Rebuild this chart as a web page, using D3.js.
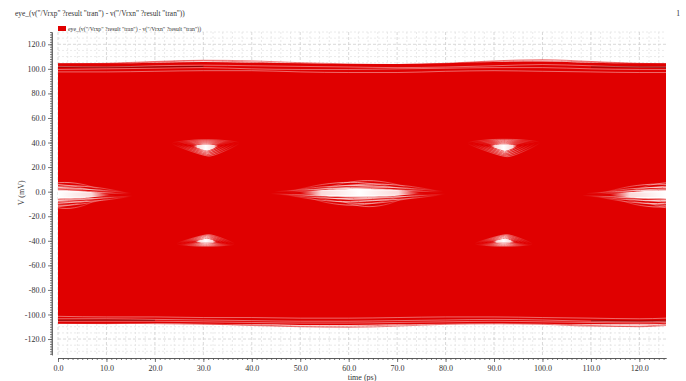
<!DOCTYPE html>
<html>
<head>
<meta charset="utf-8">
<script src="https://cdn.jsdelivr.net/npm/d3@7"></script>
<style>
  body { margin: 0; background: #fff; }
  svg { display: block; }
  text { font-family: "Liberation Serif", "Times New Roman", serif; fill: #333; }
</style>
</head>
<body>
<svg id="chart" width="686" height="381"></svg>
<script>
// ---- signal name / labels ----
const titleText = 'eye_(v("/Vrxp" ?result "tran") - v("/Vrxn" ?result "tran"))';
const legendText = titleText;
const xLabel = "time (ps)";
const yLabel = "V (mV)";

// ---- axis ticks ----
const xTicks = [0, 10, 20, 30, 40, 50, 60, 70, 80, 90, 100, 110, 120];
const yTicks = [-120, -100, -80, -60, -40, -20, 0, 20, 40, 60, 80, 100, 120];

// ---- eye envelope (time in ps, voltage in mV) ----
const envT = [0, 10, 20, 30, 40, 50, 60, 70, 80, 90, 100, 110, 120, 125.5];
const bodyTop    = [104.5, 104.5, 105, 105.5, 105, 104.5, 104, 104, 104.5, 105.5, 106, 105, 104.5, 104.5];
const bodyBottom = [-107.5, -107.5, -107, -107.5, -108, -108.5, -108.5, -108, -107.5, -107, -107.5, -108, -108, -107.5];

// outlying traces just outside the body
const upperStray = [
  [104.0, 104.5, 106.0, 107.0, 106.5, 105.0, 104.0, 103.5, 104.5, 106.5, 107.5, 106.0, 104.5, 104.0],
  [103.5, 104.0, 105.5, 106.5, 105.5, 104.0, 103.5, 103.5, 104.0, 106.0, 106.5, 105.5, 104.0, 103.5]
];
const lowerStray = [
  [-107.0, -107.5, -107.0, -107.5, -109.0, -110.0, -110.5, -109.5, -108.0, -107.5, -108.0, -109.5, -109.5, -108.0],
  [-106.5, -107.0, -107.5, -108.0, -108.5, -109.5, -109.5, -108.5, -107.5, -107.5, -107.5, -109.0, -110.0, -109.0]
];

// gaps between the rail traces
const upperGaps = [
  [102.0, 101.5, 102.5, 103.0, 102.5, 102.0, 101.5, 101.0, 101.5, 102.5, 103.5, 102.5, 101.5, 101.5],
  [99.5, 100.0, 100.5, 101.0, 100.0, 99.5, 99.5, 100.0, 100.5, 101.0, 101.0, 100.0, 99.5, 99.5],
  [97.5, 97.5, 98.0, 98.5, 98.5, 97.5, 97.0, 97.0, 98.0, 98.5, 98.0, 97.5, 97.0, 97.0]
];
const lowerGaps = [
  [-103.5, -103.5, -104.0, -104.5, -105.0, -105.5, -105.5, -105.0, -104.5, -104.0, -104.5, -105.5, -106.0, -105.5],
  [-105.5, -105.5, -105.5, -106.0, -106.5, -107.0, -107.0, -106.5, -106.0, -105.5, -106.0, -106.5, -107.0, -106.5],
  [-101.5, -102.0, -102.0, -102.5, -102.5, -103.0, -103.0, -102.5, -102.0, -102.0, -102.5, -103.0, -103.5, -103.0]
];

// darker rail traces (only partly visible)
const upperDark = [101.5, 101.3, 101.5, 102.0, null, null, null, null, null, null, null, 101.5, 101.5, 101.3];
const lowerDark = [-104.8, -104.6, -104.8, null, null, null, null, null, null, null, null, -105.2, -105.4, -105.2];

// ---- eye openings ----
const bigEyeT     = [0, 62.3, 125.5];
const bigEyeV     = [-2.5, -1, -2.5];
const bigEyeHalfW = [14, 16, 15];
const bigEyeHalfH = [10, 10, 10];

const smallEyeT     = [30.5, 92, 30.5, 92];
const smallEyeV     = [36, 36, -40, -40];
const smallEyeHalfW = [7, 7.5, 6, 6];
const smallEyeHalfH = [7, 7.5, 5, 5];
const smallEyeApex  = [-1, -1, 1, 1];

// ---- layout ----
const plot = { left: 58, right: 666, top: 32, bottom: 355 };
const yAxisX = 52, xAxisY = 358;
const RED = "#e00000";

const svg = d3.select("#chart");
const defs = svg.append("defs");

const x = d3.scaleLinear().domain([0, 125.5]).range([plot.left, plot.right]);
const y = d3.scaleLinear().domain([-133, 130]).range([plot.bottom, plot.top]);

// horizontal fade used for the traces inside the eye openings
function fade(id, stops) {
  const lg = defs.append("linearGradient").attr("id", id)
    .attr("x1", 0).attr("x2", 1).attr("y1", 0).attr("y2", 0);
  stops.forEach(([o, a]) => lg.append("stop").attr("offset", o)
    .attr("stop-color", "#fff").attr("stop-opacity", a));
}
fade("fadeSoft", [[0, 0], [0.25, 0.55], [0.45, 1], [0.55, 1], [0.75, 0.55], [1, 0]]);
fade("fadeCore", [[0, 0], [0.18, 0.85], [0.5, 1], [0.82, 0.85], [1, 0]]);

// grid
const grid = svg.append("g");
const xMinorGrid = d3.range(0, 125.6, 2).filter(t => t % 10 !== 0);
const yMinorGrid = d3.range(-130, 131, 5).filter(v => v % 20 !== 0);
grid.selectAll(".vg").data(xMinorGrid).join("line")
  .attr("x1", d => x(d)).attr("x2", d => x(d))
  .attr("y1", plot.top).attr("y2", plot.bottom)
  .attr("stroke", "#e4e4e4").attr("stroke-width", 0.8).attr("stroke-dasharray", "2,2");
grid.selectAll(".hg").data(yMinorGrid).join("line")
  .attr("x1", plot.left).attr("x2", plot.right)
  .attr("y1", d => y(d)).attr("y2", d => y(d))
  .attr("stroke", "#e4e4e4").attr("stroke-width", 0.8).attr("stroke-dasharray", "2,2");
grid.selectAll(".vG").data(xTicks).join("line")
  .attr("x1", d => x(d)).attr("x2", d => x(d))
  .attr("y1", plot.top).attr("y2", plot.bottom)
  .attr("stroke", "#cfcfcf").attr("stroke-width", 0.8).attr("stroke-dasharray", "3,2");
grid.selectAll(".hG").data(yTicks).join("line")
  .attr("x1", plot.left).attr("x2", plot.right)
  .attr("y1", d => y(d)).attr("y2", d => y(d))
  .attr("stroke", "#cfcfcf").attr("stroke-width", 0.8).attr("stroke-dasharray", "3,2");

// clip
defs.append("clipPath").attr("id", "plotClip")
  .append("rect").attr("x", plot.left).attr("y", plot.top)
  .attr("width", plot.right - plot.left).attr("height", plot.bottom - plot.top);

const g = svg.append("g").attr("clip-path", "url(#plotClip)");

// trace helpers
const zip = vals => envT.map((t, i) => [t, vals[i]]);
const railLine = d3.line()
  .defined(d => d[1] != null)
  .x(d => x(d[0])).y(d => y(d[1]))
  .curve(d3.curveMonotoneX);

// eye body
const body = d3.area()
  .x(d => x(d[0])).y0(d => y(d[2])).y1(d => y(d[1]))
  .curve(d3.curveMonotoneX);
g.append("path")
  .datum(envT.map((t, i) => [t, bodyTop[i], bodyBottom[i]]))
  .attr("d", body).attr("fill", RED);

// stray traces
g.selectAll(".stray").data(upperStray.concat(lowerStray)).join("path")
  .attr("d", d => railLine(zip(d)))
  .attr("fill", "none").attr("stroke", RED)
  .attr("stroke-width", 0.8).attr("stroke-opacity", 0.6);

// light gaps in the rails
g.selectAll(".gap").data(upperGaps.concat(lowerGaps)).join("path")
  .attr("d", d => railLine(zip(d)))
  .attr("fill", "none").attr("stroke", "#fff")
  .attr("stroke-width", 0.6).attr("stroke-opacity", 0.7);

// dark rail traces
g.selectAll(".dark").data([upperDark, lowerDark]).join("path")
  .attr("d", d => railLine(zip(d)))
  .attr("fill", "none").attr("stroke", "#200")
  .attr("stroke-width", 0.7).attr("stroke-opacity", 0.6);

// big eye openings: feathered arcs fading toward the crossings, plus a clear core
const featherRise  = [1.0, 0.86, 0.72, 0.6, 0.48, 0.36, 0.24, -0.24, -0.36, -0.48, -0.6, -0.72, -0.86, -1.0, -1.12];
const featherReach = [0.6, 0.72, 0.82, 0.9, 0.96, 1.0, 1.0, 1.0, 1.0, 0.96, 0.9, 0.82, 0.74, 0.64, 0.5];
const featherShift = [0.1, -0.12, 0.18, -0.05, 0.12, -0.1, 0.05, -0.15, 0.1, -0.08, 0.16, -0.12, 0.06, -0.1, 0.12];
const featherAlpha = [0.55, 0.65, 0.75, 0.85, 0.9, 0.95, 1, 1, 0.95, 0.9, 0.85, 0.75, 0.65, 0.55, 0.45];
const arcLine = d3.line().x(d => x(d[0])).y(d => y(d[1])).curve(d3.curveCatmullRom);
const closedLine = d3.line().x(d => x(d[0])).y(d => y(d[1])).curve(d3.curveCardinalClosed.tension(0.4));

bigEyeT.forEach((tc, e) => {
  const vc = bigEyeV[e], hw = bigEyeHalfW[e], hh = bigEyeHalfH[e];
  const eg = g.append("g");
  featherRise.forEach((r, k) => {
    const reach = hw * featherReach[k], rise = hh * r, mid = tc + hw * featherShift[k];
    const pts = [
      [mid - reach, vc + rise * 0.25],
      [mid - reach * 0.5, vc + rise * 0.8],
      [mid, vc + rise],
      [mid + reach * 0.5, vc + rise * 0.8],
      [mid + reach, vc + rise * 0.25]
    ];
    eg.append("path").attr("d", arcLine(pts))
      .attr("fill", "none").attr("stroke", "url(#fadeSoft)")
      .attr("stroke-width", 0.9).attr("stroke-opacity", featherAlpha[k]);
  });
  const core = [
    [tc - hw * 0.78, vc], [tc - hw * 0.38, vc + hh * 0.27], [tc, vc + hh * 0.32],
    [tc + hw * 0.38, vc + hh * 0.27], [tc + hw * 0.78, vc],
    [tc + hw * 0.38, vc - hh * 0.27], [tc, vc - hh * 0.32], [tc - hw * 0.38, vc - hh * 0.27]
  ];
  eg.append("path").attr("d", closedLine(core))
    .attr("fill", "url(#fadeCore)");
});

// small eye openings: triangular, apex toward the middle level
const smallScale = [1.0, 0.86, 0.72, 0.58, 0.45];
const smallAlpha = [0.5, 0.65, 0.75, 0.85, 0.95];

smallEyeT.forEach((tc, e) => {
  const vc = smallEyeV[e], hw = smallEyeHalfW[e], hh = smallEyeHalfH[e], a = smallEyeApex[e];
  const shape = k => [
    [tc - hw * k, vc - a * hh * 0.45 * k],
    [tc - hw * 0.35 * k, vc - a * hh * 0.85 * k],
    [tc + hw * 0.4 * k, vc - a * hh * 0.85 * k],
    [tc + hw * k, vc - a * hh * 0.5 * k],
    [tc + hw * 0.1 * k, vc + a * hh * k]
  ];
  const eg = g.append("g");
  smallScale.forEach((k, i) => {
    eg.append("path").attr("d", closedLine(shape(k)))
      .attr("fill", "none").attr("stroke", "url(#fadeSoft)")
      .attr("stroke-width", 0.8).attr("stroke-opacity", smallAlpha[i]);
  });
  eg.append("path").attr("d", closedLine(shape(0.38)))
    .attr("fill", "url(#fadeCore)");
});

// ---- axes ----
const fmt = d => d.toFixed(1);

const yAxis = svg.append("g").attr("transform", `translate(${yAxisX},0)`);
yAxis.call(d3.axisLeft(y).tickValues(d3.range(-132, 131, 2)).tickSize(2).tickSizeOuter(0).tickFormat(""));
yAxis.append("g").call(d3.axisLeft(y).tickValues(yTicks).tickSize(4).tickSizeOuter(0).tickPadding(2.5).tickFormat(fmt));

const xAxis = svg.append("g").attr("transform", `translate(0,${xAxisY})`);
xAxis.call(d3.axisBottom(x).tickValues(d3.range(0, 125.6, 1)).tickSize(2).tickSizeOuter(0).tickFormat(""));
xAxis.append("g").call(d3.axisBottom(x).tickValues(xTicks).tickSize(4).tickSizeOuter(0).tickPadding(3).tickFormat(fmt));

svg.selectAll(".domain, .tick line").attr("stroke", "#555").attr("stroke-width", 0.8);
svg.selectAll(".tick text").attr("font-size", 8).attr("font-family", null).attr("fill", "#333");
yAxis.select(".domain").attr("d", `M0,${plot.top}V${plot.bottom}`);

// axis titles
svg.append("text").attr("x", (plot.left + plot.right) / 2).attr("y", 380)
  .attr("text-anchor", "middle").attr("font-size", 8).text(xLabel);
svg.append("text").attr("transform", `translate(24,${y(-1)}) rotate(-90)`)
  .attr("text-anchor", "middle").attr("font-size", 8).text(yLabel);

// header
svg.append("text").attr("x", 15).attr("y", 16).attr("font-size", 7.4).text(titleText);
svg.append("text").attr("x", 680).attr("y", 16).attr("text-anchor", "end").attr("font-size", 7.6).text("1");

// legend
svg.append("rect").attr("x", 58).attr("y", 26).attr("width", 8).attr("height", 5).attr("fill", RED);
svg.append("text").attr("x", 68).attr("y", 30.5).attr("font-size", 5.8).text(legendText);
</script>
</body>
</html>
